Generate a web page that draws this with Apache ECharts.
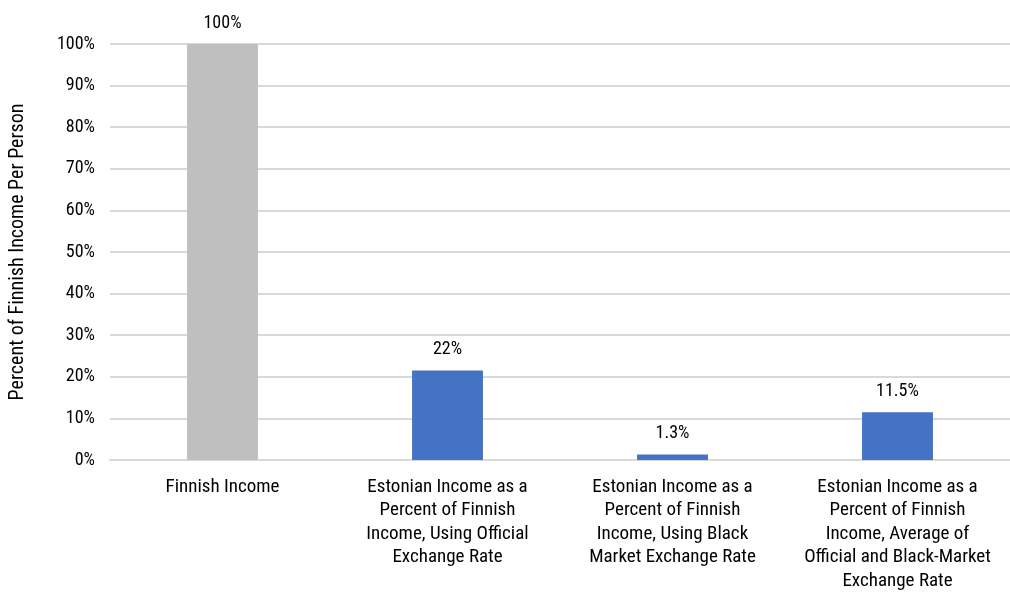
<!DOCTYPE html>
<html><head><meta charset="utf-8">
<script src="https://cdn.jsdelivr.net/npm/echarts@6/dist/echarts.min.js"></script>
<style>html,body{margin:0;padding:0;background:#fff;overflow:hidden}#c{width:1010px;height:595px}</style>
</head><body><div id="c"></div>
<script>
const categories = [
  "Finnish Income",
  "Estonian Income as a\nPercent of Finnish\nIncome, Using Official\nExchange Rate",
  "Estonian Income as a\nPercent of Finnish\nIncome, Using Black\nMarket Exchange Rate",
  "Estonian Income as a\nPercent of Finnish\nIncome, Average of\nOfficial and Black-Market\nExchange Rate"
];
const values = [100, 21.5, 1.3, 11.5];
const valueLabels = ["100%", "22%", "1.3%", "11.5%"];
const barColors = ["#bfbfbf", "#4472c4", "#4472c4", "#4472c4"];
const yTicks = [0, 10, 20, 30, 40, 50, 60, 70, 80, 90, 100];
const FONT = "'Roboto Condensed','Liberation Sans Narrow','Roboto',sans-serif";

const chart = echarts.init(document.getElementById('c'));
chart.setOption({
  animation: false,
  grid: {left: 108, width: 907, top: 44, height: 416, containLabel: false},
  xAxis: {
    type: 'category',
    data: categories,
    axisLine: {show: true, lineStyle: {color: '#d9d9d9', width: 2}},
    axisTick: {show: false},
    axisLabel: {color: '#000', fontFamily: FONT, fontSize: 19, lineHeight: 23.5, margin: 15, interval: 0}
  },
  yAxis: {
    type: 'value',
    min: yTicks[0], max: yTicks[yTicks.length - 1], interval: 10,
    name: 'Percent of Finnish Income Per Person',
    nameLocation: 'middle', nameGap: 82, nameRotate: 90,
    nameTextStyle: {color: '#000', fontFamily: FONT, fontSize: 20},
    axisLine: {show: false}, axisTick: {show: false},
    axisLabel: {color: '#000', fontFamily: FONT, fontSize: 18, margin: 15, formatter: v => v + '%'},
    splitLine: {lineStyle: {color: '#d9d9d9', width: 2}}
  },
  series: [{
    type: 'bar',
    barWidth: '31.5%',
    data: values.map((v, i) => ({value: v, itemStyle: {color: barColors[i]}})),
    label: {
      show: true, position: 'top', distance: 12,
      color: '#000', fontFamily: FONT, fontSize: 18,
      formatter: p => valueLabels[p.dataIndex]
    }
  }]
});
</script></body></html>
